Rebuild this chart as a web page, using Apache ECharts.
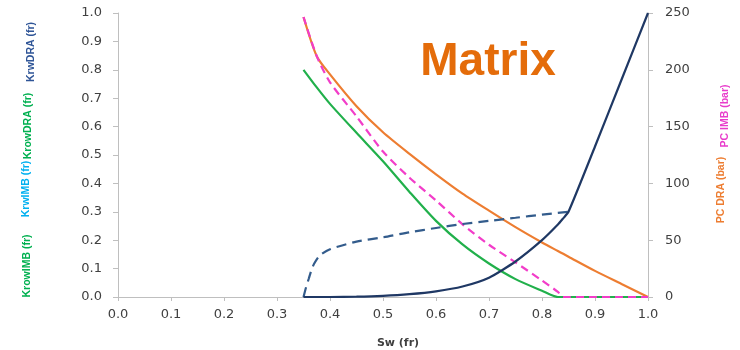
<!DOCTYPE html>
<html>
<head>
<meta charset="utf-8">
<script src="https://cdn.jsdelivr.net/npm/echarts@6/dist/echarts.min.js"></script>
<style>
  html, body { margin: 0; padding: 0; background: #fff; }
  #chart { width: 740px; height: 350px; }
</style>
</head>
<body>
<div id="chart"></div>
<script>
// Sw (fr) sample points shared by most curves
const sw = [0.35, 0.375, 0.40, 0.45, 0.50, 0.55, 0.60, 0.65, 0.70, 0.75, 0.80, 0.83, 0.84, 0.85, 0.90, 0.95, 1.00]
const krwDra  = [0, 0, 0, 0.001, 0.004, 0.01, 0.02, 0.037, 0.068, 0.125, 0.2, 0.255, 0.277, 0.30, 0.53, 0.765, 1.0]
const krowDra = [0.80, 0.738, 0.68, 0.578, 0.478, 0.37, 0.268, 0.185, 0.118, 0.063, 0.022, 0, 0, 0, 0, 0, 0]
const pcDra   = [246.5, 212, 196, 168, 145, 126, 108, 91, 76, 61.5, 48, 40.5, 38, 35.5, 23, 11.5, 0]
const pcImb   = [246.5, 212, 189, 159, 128, 105, 85, 64, 46, 30.5, 14.5, 4.5, 0, 0, 0, 0, 0]

// imbibition Krw has its own points (steep start)
const swImb  = [0.35, 0.355, 0.36, 0.365, 0.37, 0.38, 0.40, 0.45, 0.50, 0.55, 0.60, 0.65, 0.70, 0.75, 0.80, 0.85]
const krwImb = [0, 0.035, 0.065, 0.095, 0.117, 0.145, 0.168, 0.195, 0.21, 0.228, 0.243, 0.257, 0.268, 0.279, 0.29, 0.30]

const pairs = (xs, ys) => xs.map((x, i) => [x, ys[i]])

const axisCol = '#bfbfbf'
const labelCol = '#404040'
const labelFont = { color: labelCol, fontSize: 13, fontFamily: 'DejaVu Sans' }

const sideText = (x, y, text, color) => ({
  type: 'text',
  x: x, y: y,
  rotation: Math.PI / 2,
  style: {
    text: text, fill: color,
    font: 'bold 10.5px "Liberation Sans"',
    textAlign: 'center', textVerticalAlign: 'middle'
  }
})

const chart = echarts.init(document.getElementById('chart'))
chart.setOption({
  animation: false,
  grid: { left: 118, right: 92, top: 13, bottom: 53 },
  xAxis: {
    type: 'value', min: 0, max: 1, interval: 0.1,
    axisLine: { show: true, lineStyle: { color: axisCol } },
    axisTick: { show: true, length: 4, lineStyle: { color: axisCol } },
    splitLine: { show: false },
    axisLabel: Object.assign({ margin: 11, formatter: v => v.toFixed(1) }, labelFont)
  },
  yAxis: [
    {
      type: 'value', min: 0, max: 1, interval: 0.1,
      axisLine: { show: true, lineStyle: { color: axisCol } },
      axisTick: { show: true, length: 5, lineStyle: { color: axisCol } },
      splitLine: { show: false },
      axisLabel: Object.assign({ margin: 16, formatter: v => v.toFixed(1) }, labelFont)
    },
    {
      type: 'value', min: 0, max: 250, interval: 50, position: 'right',
      axisLine: { show: true, lineStyle: { color: axisCol } },
      axisTick: { show: true, length: 5, lineStyle: { color: axisCol } },
      splitLine: { show: false },
      axisLabel: Object.assign({ margin: 17 }, labelFont)
    }
  ],
  graphic: [
    sideText(31, 52, 'KrwDRA (fr)', '#2f5597'),
    sideText(28, 126, 'KrowDRA (fr)', '#00b050'),
    sideText(26, 189, 'KrwIMB (fr)', '#00b0f0'),
    sideText(27, 266, 'KrowIMB (fr)', '#00b050'),
    sideText(725, 116, 'PC IMB (bar)', '#e83ccb'),
    sideText(721, 190, 'PC DRA (bar)', '#ed7d31'),
    {
      type: 'text', x: 398, y: 343,
      style: { text: 'Sw (fr)', fill: labelCol, font: 'bold 11px "DejaVu Sans"', textAlign: 'center', textVerticalAlign: 'middle' }
    },
    {
      type: 'text', x: 488, y: 62,
      style: { text: 'Matrix', fill: '#e46c0a', font: 'bold 46px "Liberation Sans"', textAlign: 'center', textVerticalAlign: 'middle' }
    }
  ],
  series: [
    {
      name: 'KrowDRA', type: 'line', yAxisIndex: 0, data: pairs(sw, krowDra),
      showSymbol: false, smooth: 0.25,
      lineStyle: { color: '#21b04b', width: 2.2 }
    },
    {
      name: 'PC DRA', type: 'line', yAxisIndex: 1, data: pairs(sw, pcDra),
      showSymbol: false, smooth: 0.25,
      lineStyle: { color: '#ed7d31', width: 2.2 }
    },
    {
      name: 'PC IMB', type: 'line', yAxisIndex: 1, data: pairs(sw, pcImb),
      showSymbol: false, smooth: 0.25,
      lineStyle: { color: '#f23dc9', width: 2.2, type: [8, 5] }
    },
    {
      name: 'KrwIMB', type: 'line', yAxisIndex: 0, data: pairs(swImb, krwImb),
      showSymbol: false, smooth: 0.25,
      lineStyle: { color: '#335c8c', width: 2.2, type: [10, 6] }
    },
    {
      name: 'KrwDRA', type: 'line', yAxisIndex: 0, data: pairs(sw, krwDra),
      showSymbol: false, smooth: 0.2,
      lineStyle: { color: '#1f3864', width: 2.2 }
    }
  ]
})
</script>
</body>
</html>
